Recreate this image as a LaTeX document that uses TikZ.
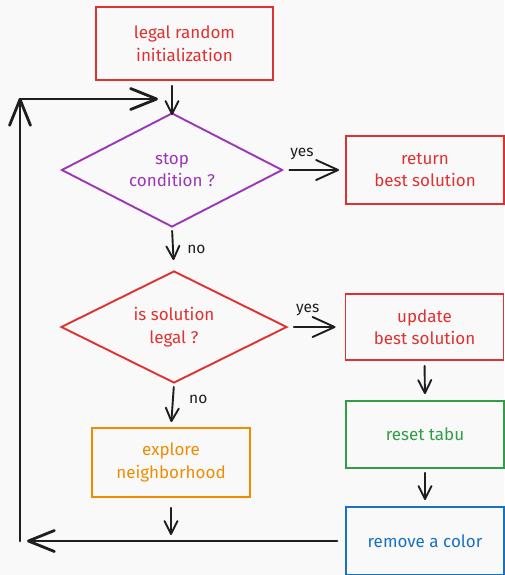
\documentclass[tikz,border=0pt]{standalone}
\usepackage{fontspec}
\setmainfont{Fira Sans}
\usetikzlibrary{shapes.geometric,arrows.meta}
\definecolor{pagebg}{HTML}{F9F9F9}
\definecolor{inkred}{HTML}{E03131}
\definecolor{inkpurple}{HTML}{9C36B5}
\definecolor{inkorange}{HTML}{F08C00}
\definecolor{inkgreen}{HTML}{2F9E44}
\definecolor{inkblue}{HTML}{1971C2}
\definecolor{ink}{HTML}{1E1E1E}
\begin{document}
\begin{tikzpicture}[x=1pt, y=-1pt,
  every node/.style = {align=center, font=\fontsize{17}{22.5}\selectfont},
  box/.style = {shape=rectangle, draw, line width=1.9pt, inner sep=0pt,
    minimum width=158pt, minimum height=68pt},
  cond/.style = {shape=diamond, draw, line width=1.9pt, inner sep=0pt,
    aspect=1.93, minimum width=221pt, minimum height=114pt},
  flow/.style = {draw=ink, line width=1.9pt, line cap=round,
    -{Straight Barb[length=13pt,width=13pt,round]}},
  side/.style = {flow, -{Straight Barb[length=22pt,width=20pt,round]}},
  back/.style = {draw=ink, line width=2.8pt, line cap=round,
    -{Straight Barb[length=26pt,width=21pt,round]}},
  answer/.style = {font=\fontsize{15.5}{17}\selectfont, text=ink}]
  \fill[pagebg] (0,0) rectangle (504,575);
  \useasboundingbox (0,0) rectangle (504,575);
  % boxes and conditions
  \node[box, draw=inkred, text=inkred, minimum width=177pt, minimum height=73pt]
    (init) at (184.5,43.5) {legal random\\initialization};
  \node[cond, draw=inkpurple, text=inkpurple] (stop) at (172,170) {stop\\condition ?};
  \node[box, draw=inkred, text=inkred] (return) at (425,170) {return\\best solution};
  \node[cond, draw=inkred, text=inkred, minimum width=226pt, minimum height=112pt]
    (legal) at (174,327) {is solution\\legal ?};
  \node[box, draw=inkred, text=inkred, minimum height=66pt] (update) at (424.5,327) {update\\best solution};
  \node[box, draw=inkgreen, text=inkgreen, minimum height=67pt] (reset) at (425,434.5) {reset tabu};
  \node[box, draw=inkblue, text=inkblue] (remove) at (425,541) {remove a color};
  \node[box, draw=inkorange, text=inkorange, minimum height=69pt] (explore) at (171,462.5) {explore\\neighborhood};
  % loop corners
  \coordinate (loopbot) at (20,541);
  \coordinate (looptop) at (20,99);
  % connectors
  \draw[flow] (stop.north |- init.south) ++(0,5) -- ([yshift=-3pt]stop.north);
  \draw[side, shorten <=6pt, shorten >=6pt] (stop.east) -- (return.west)
    node[answer, pos=0.3, above=6pt] {yes};
  \draw[flow, shorten <=3pt, shorten >=10pt] (stop.south) -- (legal.north)
    node[answer, midway, right=10pt] {no};
  \draw[side, shorten <=6pt, shorten >=9pt] (legal.east) -- (update.west)
    node[answer, pos=0.35, above=7pt] {yes};
  \draw[flow, shorten <=5pt, shorten >=6pt] (update.south) -- (reset.north);
  \draw[flow, shorten <=4pt, shorten >=6pt] (reset.south) -- (remove.north);
  \draw[flow, shorten <=3pt, shorten >=5pt] (legal.south) -- (explore.north)
    node[answer, pos=0.35, right=12pt] {no};
  \draw[flow, shorten <=10pt, shorten >=6pt] (explore.south) -- (explore.south |- remove.west);
  \draw[back, shorten <=8pt, shorten >=7pt] (remove.west) -- (loopbot);
  \draw[back, shorten >=-1pt] (loopbot) -- (looptop);
  \draw[back, shorten >=14pt] (looptop) -- (looptop -| stop.north);
\end{tikzpicture}
\end{document}
